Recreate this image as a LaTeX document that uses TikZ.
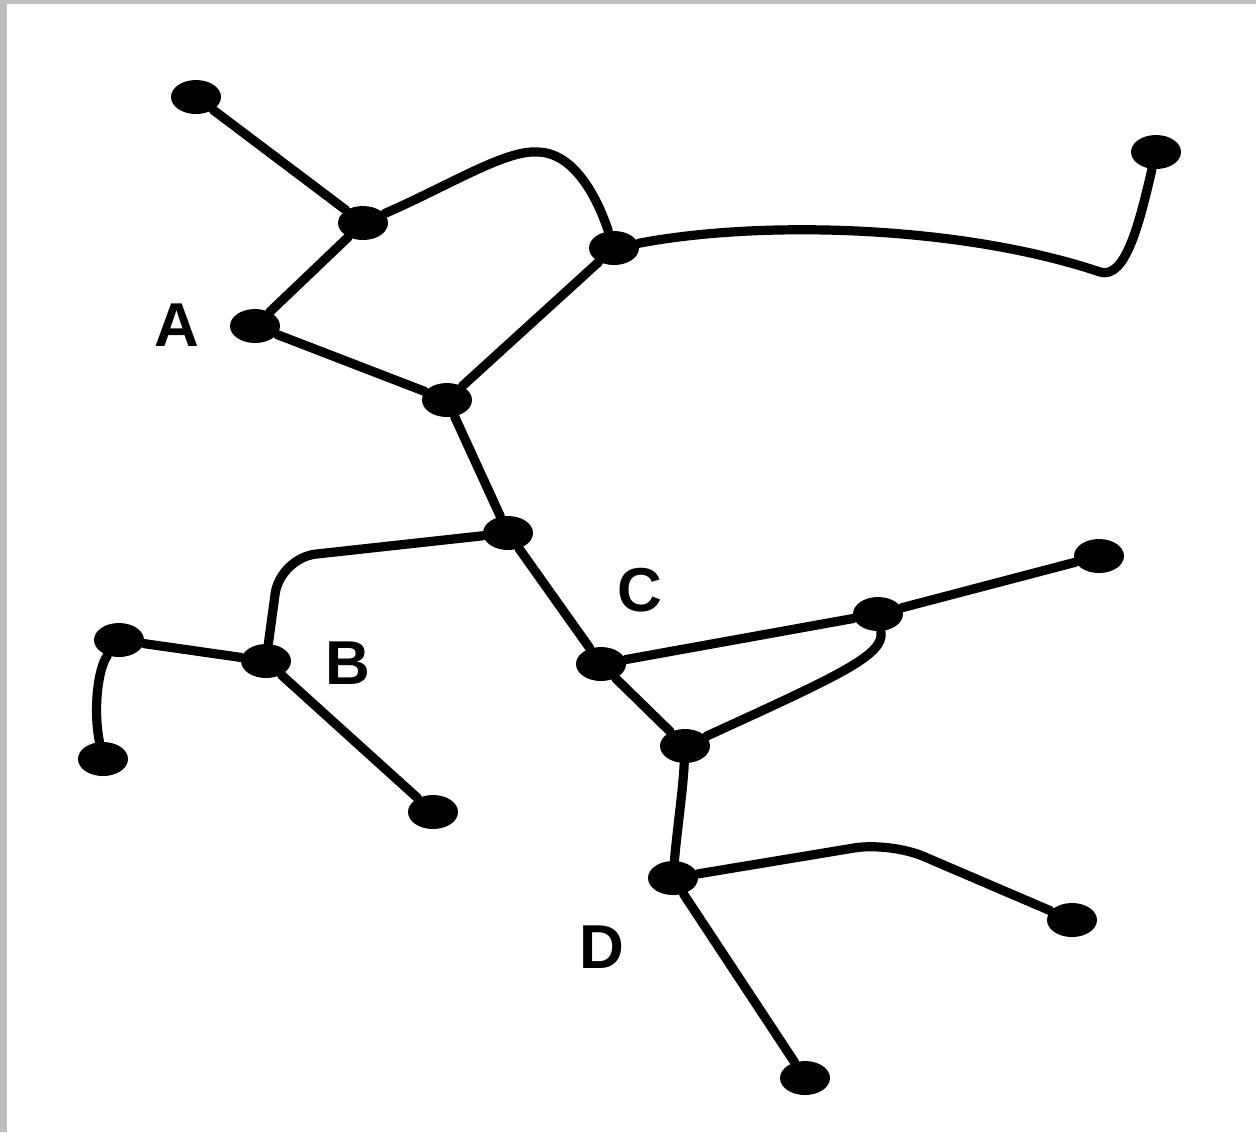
\documentclass[tikz,border=0pt]{standalone}
\usepackage{fontspec}
\setmainfont{Liberation Sans}
\usetikzlibrary{shapes.geometric}
\definecolor{framegray}{RGB}{190,190,190}

\begin{document}
\begin{tikzpicture}[x=0.5pt,y=-0.5pt,
  dot/.style={ellipse,fill=black,inner sep=0pt,minimum width=25pt,minimum height=17pt},
  link/.style={line width=4.6pt,line cap=round,line join=round},
  lbl/.style={font=\fontsize{31}{31}\selectfont\bfseries}]
\useasboundingbox (0,0) rectangle (1256,1132);
\fill[framegray] (0,0) rectangle (1256,4);
\fill[framegray] (0,0) rectangle (7,1132);

% cluster A
\node[dot] (a1) at (196,97) {};
\node[dot] (a2) at (363,223) {};
\node[dot] (a3) at (255,326) {};
\node[dot] (a4) at (614,248) {};
\node[dot] (a5) at (1156,152) {};
\node[dot] (a6) at (447,400) {};
\node[lbl] (la) at (177,325) {A};

% cluster B
\node[dot] (b1) at (508,533) {};
\node[dot] (b2) at (119,640) {};
\node[dot] (b3) at (266,661) {};
\node[dot] (b4) at (103,759) {};
\node[dot] (b5) at (433,812) {};
\node[lbl] (lb) at (348,663) {B};

% cluster C
\node[dot] (c1) at (601,664) {};
\node[dot] (c2) at (878,614) {};
\node[dot] (c3) at (1099,556) {};
\node[dot] (c4) at (685,746) {};
\node[lbl] (lc) at (640,590) {C};

% cluster D
\node[dot] (d1) at (673,878) {};
\node[dot] (d2) at (1072,920) {};
\node[dot] (d3) at (805,1078) {};
\node[lbl] (ld) at (602,947) {D};

\draw[link] (a1) -- (a2);
\draw[link] (a2) -- (a3);
\draw[link] (a3) -- (a6);
\draw[link] (a6) -- (a4);
\draw[link] (a2) .. controls (450,185) and (505,150) .. (537,152)
  .. controls (575,152) and (598,200) .. (a4);
\draw[link] (a4) .. controls (760,220) and (960,225) .. (1100,272)
  .. controls (1126,280) and (1140,220) .. (a5);
\draw[link] (a6) -- (b1);

\draw[link,rounded corners=18pt] (b1) -- (280,558) -- (b3);
\draw[link] (b2) -- (b3);
\draw[link] (b2) .. controls (98,668) and (93,710) .. (b4);
\draw[link] (b3) -- (b5);
\draw[link] (b1) -- (c1);

\draw[link] (c1) -- (c2);
\draw[link] (c2) -- (c3);
\draw[link] (c2) .. controls (885,655) and (840,675) .. (c4);
\draw[link] (c1) -- (c4);
\draw[link] (c4) .. controls (683,790) and (677,830) .. (d1);

\draw[link,rounded corners=18pt] (d1) -- (890,842) -- (d2);
\draw[link] (d1) -- (d3);

\end{tikzpicture}
\end{document}
